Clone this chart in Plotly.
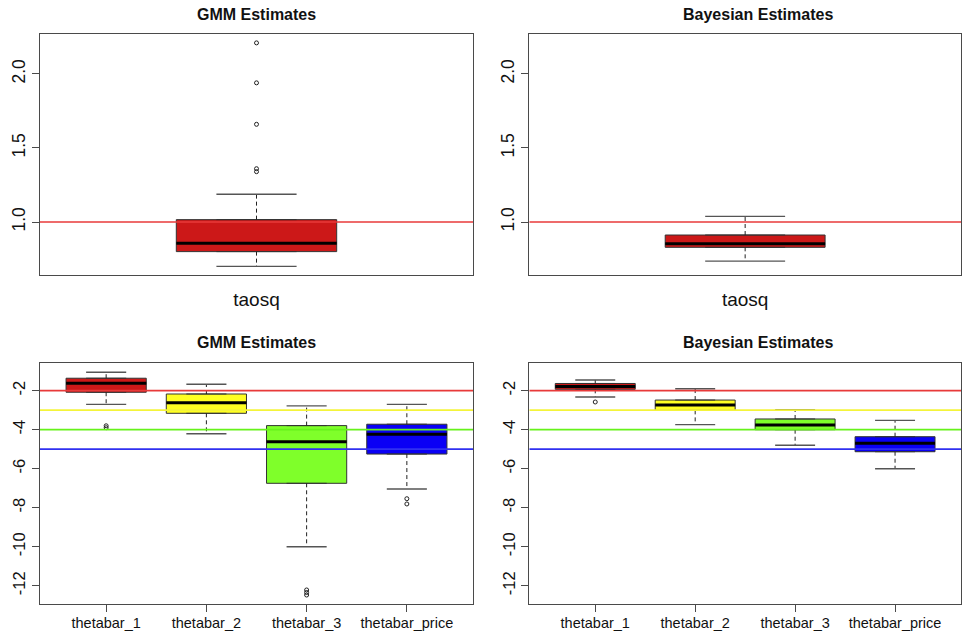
import plotly.graph_objects as go

# ---- tau^2 estimates (single box per panel) ----
tau_name = ["taosq"]
tau_true = 1.0
gmm_tau_lower = [0.70]
gmm_tau_q1 = [0.80]
gmm_tau_median = [0.856]
gmm_tau_q3 = [1.016]
gmm_tau_upper = [1.187]
gmm_tau_outliers = [[1.34, 1.36, 1.66, 1.94, 2.21]]

bayes_tau_lower = [0.736]
bayes_tau_q1 = [0.829]
bayes_tau_median = [0.853]
bayes_tau_q3 = [0.912]
bayes_tau_upper = [1.038]
bayes_tau_outliers = [[]]

# ---- theta-bar estimates ----
theta_names = ["thetabar_1", "thetabar_2", "thetabar_3", "thetabar_price"]
theta_true = [-2, -3, -4, -5]
theta_colors = ["#CC1818", "#FFFF22", "#7FFF2A", "#0A00F5"]
true_line_colors = ["#E83A3A", "#F4F43A", "#66F21A", "#3030F0"]

gmm_theta_lower = [-2.70, -4.21, -10.0, -7.04]
gmm_theta_q1 = [-2.08, -3.16, -6.75, -5.25]
gmm_theta_median = [-1.62, -2.62, -4.62, -4.24]
gmm_theta_q3 = [-1.36, -2.17, -3.79, -3.72]
gmm_theta_upper = [-1.056, -1.67, -2.78, -2.70]
gmm_theta_outliers = [[-3.80, -3.90], [], [-12.22, -12.35, -12.48], [-7.54, -7.81]]

bayes_theta_lower = [-2.32, -3.74, -4.80, -6.00]
bayes_theta_q1 = [-1.93, -3.01, -4.00, -5.13]
bayes_theta_median = [-1.78, -2.73, -3.76, -4.70]
bayes_theta_q3 = [-1.63, -2.48, -3.45, -4.36]
bayes_theta_upper = [-1.45, -1.90, -2.97, -3.52]
bayes_theta_outliers = [[-2.58], [], [], []]

FONT = "Liberation Sans, Arial, Helvetica, sans-serif"
EDGE = "#333333"

fig = go.Figure()


def add_boxplot(xa, ya, lower, q1, med, q3, upper, outliers, colors, box_w, cap_w):
    n = len(q1)
    pos = list(range(1, n + 1))
    # box bodies
    for i in range(n):
        fig.add_trace(go.Box(
            x=[pos[i]], q1=[q1[i]], median=[med[i]], q3=[q3[i]],
            lowerfence=[q1[i]], upperfence=[q3[i]],
            width=box_w, fillcolor=colors[i],
            line=dict(color=EDGE, width=1),
            boxpoints=False, hoverinfo="skip", showlegend=False,
            xaxis=xa, yaxis=ya,
        ))
    # dashed whiskers
    wx, wy = [], []
    for i in range(n):
        wx += [pos[i], pos[i], None, pos[i], pos[i], None]
        wy += [q3[i], upper[i], None, q1[i], lower[i], None]
    fig.add_trace(go.Scatter(x=wx, y=wy, mode="lines",
                             line=dict(color="#222222", width=1, dash="4px,3px"),
                             hoverinfo="skip", showlegend=False, xaxis=xa, yaxis=ya))
    # whisker caps
    cx, cy = [], []
    for i in range(n):
        for v in (upper[i], lower[i]):
            cx += [pos[i] - cap_w / 2, pos[i] + cap_w / 2, None]
            cy += [v, v, None]
    fig.add_trace(go.Scatter(x=cx, y=cy, mode="lines",
                             line=dict(color="#555555", width=1.4),
                             hoverinfo="skip", showlegend=False, xaxis=xa, yaxis=ya))
    # thick medians
    mx, my = [], []
    for i in range(n):
        mx += [pos[i] - box_w / 2, pos[i] + box_w / 2, None]
        my += [med[i], med[i], None]
    fig.add_trace(go.Scatter(x=mx, y=my, mode="lines",
                             line=dict(color="#000000", width=3),
                             hoverinfo="skip", showlegend=False, xaxis=xa, yaxis=ya))
    # outliers
    ox, oy = [], []
    for i in range(n):
        for v in outliers[i]:
            ox.append(pos[i])
            oy.append(v)
    if ox:
        fig.add_trace(go.Scatter(x=ox, y=oy, mode="markers",
                                 marker=dict(symbol="circle-open", size=4,
                                             color="#222222", line=dict(width=1)),
                                 hoverinfo="skip", showlegend=False, xaxis=xa, yaxis=ya))


def add_hline(xa, ya, xr, y, color):
    fig.add_trace(go.Scatter(x=[xr[0], xr[1]], y=[y, y], mode="lines",
                             line=dict(color=color, width=1.7),
                             hoverinfo="skip", showlegend=False, xaxis=xa, yaxis=ya))


tau_xr = [0.46, 1.54]
theta_xr = [0.34, 4.66]

# top row: tau^2
add_hline("x", "y", tau_xr, tau_true, true_line_colors[0])
add_boxplot("x", "y", gmm_tau_lower, gmm_tau_q1, gmm_tau_median, gmm_tau_q3,
            gmm_tau_upper, gmm_tau_outliers, [theta_colors[0]], 0.4, 0.2)
add_hline("x2", "y2", tau_xr, tau_true, true_line_colors[0])
add_boxplot("x2", "y2", bayes_tau_lower, bayes_tau_q1, bayes_tau_median, bayes_tau_q3,
            bayes_tau_upper, bayes_tau_outliers, [theta_colors[0]], 0.4, 0.2)

# bottom row: theta-bar; the -5 line sits under the boxes, the others on top
for xa, ya, lo, a, m, b, hi, out in [
    ("x3", "y3", gmm_theta_lower, gmm_theta_q1, gmm_theta_median, gmm_theta_q3,
     gmm_theta_upper, gmm_theta_outliers),
    ("x4", "y4", bayes_theta_lower, bayes_theta_q1, bayes_theta_median, bayes_theta_q3,
     bayes_theta_upper, bayes_theta_outliers),
]:
    add_hline(xa, ya, theta_xr, theta_true[3], true_line_colors[3])
    add_boxplot(xa, ya, lo, a, m, b, hi, out, theta_colors, 0.8, 0.4)
    for k in range(3):
        add_hline(xa, ya, theta_xr, theta_true[k], true_line_colors[k])

W, H = 965, 635


def px_x(a, b):
    return [a / W, b / W]


def px_y(top, bottom):
    return [1 - bottom / H, 1 - top / H]


frame = dict(showline=True, mirror=True, linecolor="#4a4a4a", linewidth=1.2,
             showgrid=False, zeroline=False, fixedrange=True)

tau_x = dict(frame, range=tau_xr, tickvals=[1], ticktext=tau_name, ticks="outside",
             ticklen=7, tickcolor="rgba(0,0,0,0)",
             tickfont=dict(family=FONT, size=19, color="#111111"))
tau_y = dict(frame, range=[0.642, 2.27], tickvals=[1.0, 1.5, 2.0],
             ticktext=["1.0", "1.5", "2.0"], ticks="outside", ticklen=7,
             tickcolor="#4a4a4a", tickangle=-90,
             tickfont=dict(family=FONT, size=17.5, color="#111111"))
theta_x = dict(frame, range=theta_xr, tickvals=[1, 2, 3, 4], ticktext=theta_names,
               ticks="outside", ticklen=7, tickcolor="#4a4a4a", ticklabelstandoff=-2,
               tickfont=dict(family=FONT, size=14.5, color="#111111"))
theta_yticks = [-2, -4, -6, -8, -10, -12]
theta_y = dict(frame, range=[-12.94, -0.595], tickvals=theta_yticks,
               ticktext=[str(v) for v in theta_yticks], ticks="outside", ticklen=7,
               tickcolor="#4a4a4a", tickangle=-90,
               tickfont=dict(family=FONT, size=16.5, color="#111111"))

top_dom = px_y(34, 275)
bot_dom = px_y(363.3, 604)
left_dom = px_x(40, 473)
right_dom = px_x(529.3, 961)

fig.update_layout(
    width=W, height=H,
    margin=dict(l=0, r=0, t=0, b=0),
    paper_bgcolor="white", plot_bgcolor="white",
    showlegend=False,
    xaxis=dict(tau_x, domain=left_dom, anchor="y"),
    yaxis=dict(tau_y, domain=top_dom, anchor="x"),
    xaxis2=dict(tau_x, domain=right_dom, anchor="y2"),
    yaxis2=dict(tau_y, domain=top_dom, anchor="x2"),
    xaxis3=dict(theta_x, domain=left_dom, anchor="y3"),
    yaxis3=dict(theta_y, domain=bot_dom, anchor="x3"),
    xaxis4=dict(theta_x, domain=right_dom, anchor="y4"),
    yaxis4=dict(theta_y, domain=bot_dom, anchor="x4"),
)

titles = [("GMM Estimates", 256.7, 15), ("Bayesian Estimates", 757.5, 15),
          ("GMM Estimates", 256.7, 342.7), ("Bayesian Estimates", 757.5, 342.7)]
for text, cx, cy in titles:
    fig.add_annotation(text="<b>%s</b>" % text, x=cx / W, y=1 - cy / H,
                       xref="paper", yref="paper", xanchor="center", yanchor="middle",
                       showarrow=False, font=dict(family=FONT, size=16, color="#111111"))

fig.write_html("out.html")
